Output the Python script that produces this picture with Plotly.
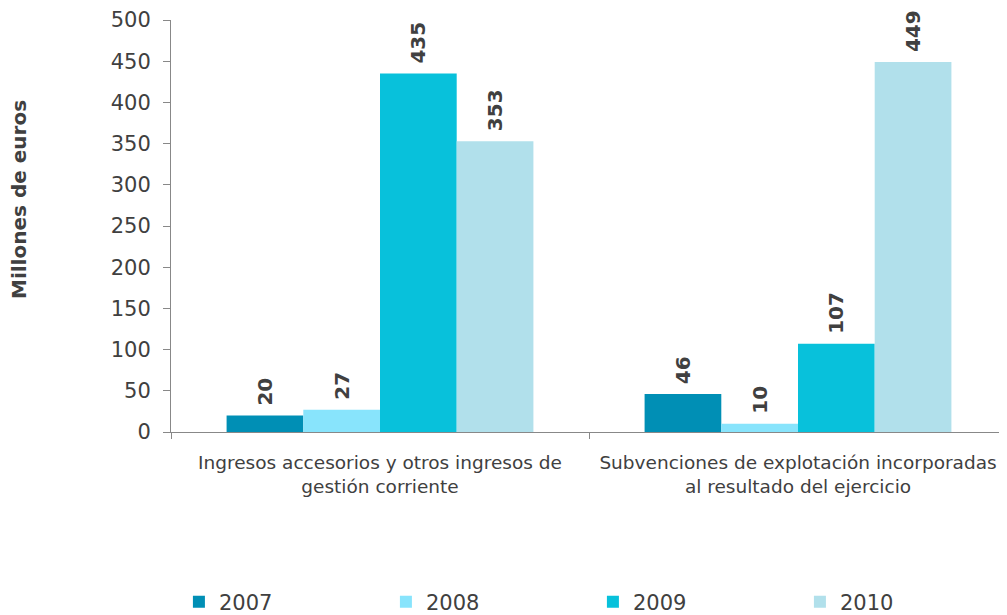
import plotly.graph_objects as go

# Categorías y valores (millones de euros)
categorias = [
    "Ingresos accesorios y otros ingresos de<br>gestión corriente",
    "Subvenciones de explotación incorporadas<br>al resultado del ejercicio",
]
años = ["2007", "2008", "2009", "2010"]
valores_2007 = [20, 46]
valores_2008 = [27, 10]
valores_2009 = [435, 107]
valores_2010 = [353, 449]

series = [valores_2007, valores_2008, valores_2009, valores_2010]
colores = ["#008FB5", "#88E4FC", "#08C1DB", "#B1E0EB"]

fuente = "Verdana, DejaVu Sans, sans-serif"

fig = go.Figure()
for año, vals, color in zip(años, series, colores):
    fig.add_trace(go.Bar(
        x=categorias,
        y=vals,
        name=año,
        marker=dict(color=color, line_width=0),
        text=["\u00a0" + str(v) for v in vals],
        textposition="outside",
        textangle=-90,
        textfont=dict(family=fuente, size=20, color="#404040", weight="bold"),
        cliponaxis=False,
    ))

fig.update_layout(
    width=999,
    height=607,
    plot_bgcolor="white",
    paper_bgcolor="white",
    barmode="group",
    bargap=0.266,
    bargroupgap=0,
    margin=dict(l=163, r=0, t=12, b=183, autoexpand=False),
    font=dict(family=fuente, color="#404040"),
    showlegend=True,
    legend=dict(
        orientation="h",
        x=-0.0001, xanchor="left",
        y=-0.413, yanchor="middle",
        entrywidth=154,
        itemwidth=30,
        indentation=8,
        font=dict(size=21, color="#404040"),
        traceorder="normal",
    ),
)

# Título del eje Y como anotación para poder situarlo libremente
fig.add_annotation(
    text="<b>Millones de euros</b>",
    xref="paper", yref="paper",
    x=(19 - 171) / 836, y=(432 - 200) / 412,
    xanchor="center", yanchor="middle",
    textangle=-90,
    showarrow=False,
    font=dict(size=20, color="#404040"),
)

fig.update_xaxes(
    showline=True,
    linecolor="#888888",
    linewidth=1,
    ticks="outside",
    tickson="boundaries",
    ticklen=6,
    tickcolor="#888888",
    ticklabelstandoff=14,
    tickfont=dict(size=18.5, color="#404040"),
)

fig.update_yaxes(
    range=[0, 500],
    dtick=50,
    showgrid=False,
    zeroline=False,
    showline=True,
    linecolor="#888888",
    linewidth=1,
    ticks="outside",
    ticklen=7,
    tickcolor="#888888",
    ticklabelstandoff=8,
    tickfont=dict(size=21, color="#404040"),
)

fig.write_html("out.html")
